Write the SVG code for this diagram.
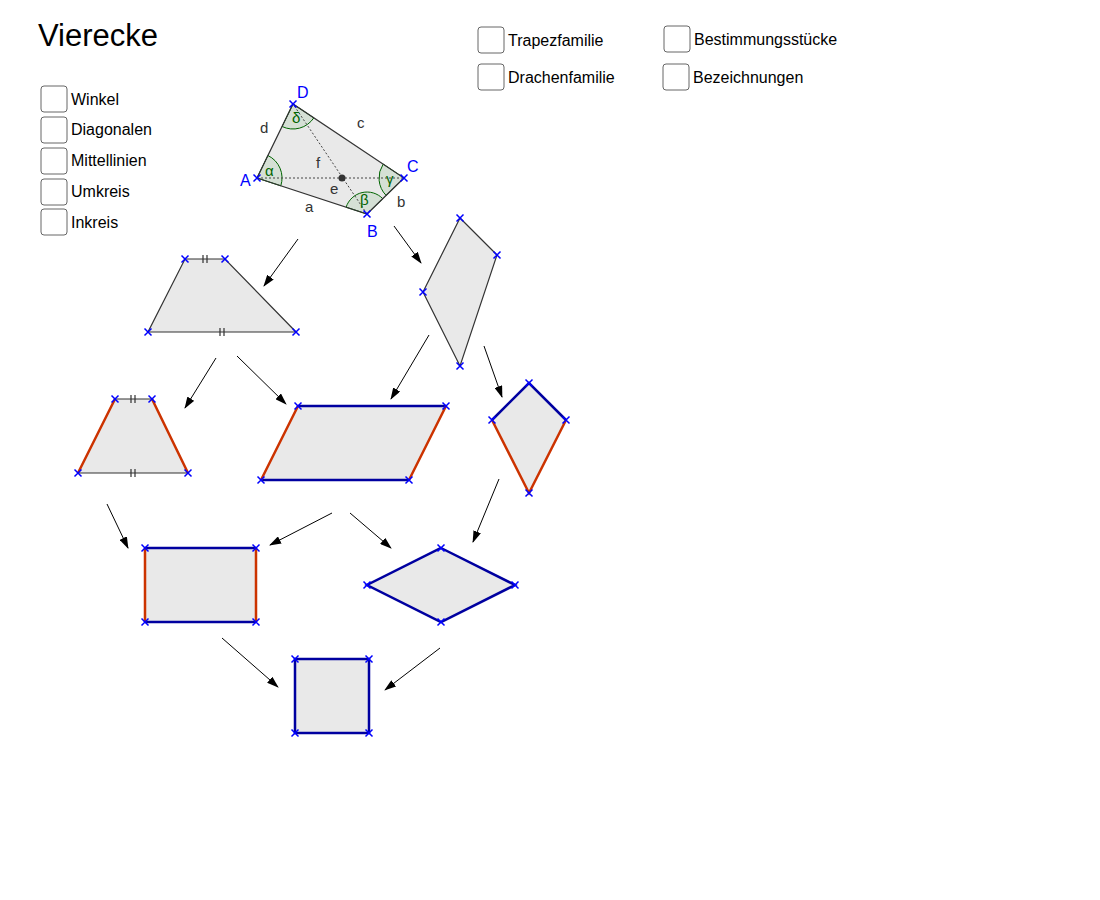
<svg xmlns="http://www.w3.org/2000/svg" xmlns:xlink="http://www.w3.org/1999/xlink" width="1100" height="900" viewBox="0 0 1100 900">
<style>
text{font-family:"Liberation Sans",Arial,sans-serif;}
.lbl{font-size:16px;fill:#000}
.cb{fill:#fff;stroke:#666;stroke-width:1}
.sh{fill:#e9e9e9;stroke:none}
.thin{stroke:#333;stroke-width:1.2;fill:none}
.blue{stroke:#0000a0;stroke-width:2.5;fill:none}
.red{stroke:#cc3300;stroke-width:2.5;fill:none}
.arr{stroke:#000;stroke-width:1;fill:none;marker-end:url(#ah)}
.ang{fill:#d0ddd0;stroke:#006400;stroke-width:1;fill-opacity:0.8}
.pt{font-size:16px;fill:#0000ff}
.gk{font-size:15px;fill:#006400}
.sl{font-size:15px;fill:#333}
.tk{stroke:#333;stroke-width:1.2}
</style>
<defs>
<marker id="ah" markerWidth="12" markerHeight="8" refX="11" refY="4" orient="auto" markerUnits="userSpaceOnUse"><path d="M0,0 L12,4 L0,8 Z" fill="#000"/></marker>
<path id="x" d="M-3.5,-3.5 L3.5,3.5 M-3.5,3.5 L3.5,-3.5" stroke="#0000ff" stroke-width="1.5"/>
</defs>
<rect width="1100" height="900" fill="#fff"/>
<text x="38" y="46" font-size="31" fill="#000">Vierecke</text>
<g id="controls">
<rect class="cb" x="41" y="86" width="26" height="26" rx="3"/><text class="lbl" x="71" y="105">Winkel</text>
<rect class="cb" x="41" y="117" width="26" height="26" rx="3"/><text class="lbl" x="71" y="135">Diagonalen</text>
<rect class="cb" x="41" y="148" width="26" height="26" rx="3"/><text class="lbl" x="71" y="166">Mittellinien</text>
<rect class="cb" x="41" y="179" width="26" height="26" rx="3"/><text class="lbl" x="71" y="197">Umkreis</text>
<rect class="cb" x="41" y="209" width="26" height="26" rx="3"/><text class="lbl" x="71" y="228">Inkreis</text>
<rect class="cb" x="478" y="27" width="26" height="26" rx="3"/><text class="lbl" x="508" y="46">Trapezfamilie</text>
<rect class="cb" x="478" y="64" width="26" height="26" rx="3"/><text class="lbl" x="508" y="83">Drachenfamilie</text>
<rect class="cb" x="664" y="26" width="26" height="26" rx="3"/><text class="lbl" x="694" y="45">Bestimmungsstücke</text>
<rect class="cb" x="663" y="64" width="26" height="26" rx="3"/><text class="lbl" x="693" y="83">Bezeichnungen</text>
</g>
<g id="quad">
<polygon class="sh" points="257,178 367,214 404,178 293,104"/>
<path class="ang" d="M257,178 L267.9,155.5 A25,25 0 0 1 280.8,185.8 Z"/>
<path class="ang" d="M367,214 L346.1,207.2 A22,22 0 0 1 382.8,198.7 Z"/>
<path class="ang" d="M404,178 L386.1,195.4 A25,25 0 0 1 383.2,164.1 Z"/>
<path class="ang" d="M293,104 L313.8,117.9 A25,25 0 0 1 282.1,126.5 Z"/>
<polygon class="thin" points="257,178 367,214 404,178 293,104"/>
<path d="M257,178 L404,178 M367,214 L293,104" stroke="#444" stroke-width="1" stroke-dasharray="2,2" fill="none"/>
<circle cx="342" cy="178" r="3.5" fill="#333"/>
<use xlink:href="#x" x="257" y="178"/><use xlink:href="#x" x="367" y="214"/><use xlink:href="#x" x="404" y="178"/><use xlink:href="#x" x="293" y="104"/>
<text class="pt" x="240" y="186">A</text><text class="pt" x="367" y="237">B</text><text class="pt" x="407" y="172">C</text><text class="pt" x="297" y="98">D</text>
<text class="gk" x="265" y="176">α</text><text class="gk" x="360" y="205">β</text><text class="gk" x="386" y="184">γ</text><text class="gk" x="292" y="123">δ</text>
<text class="sl" x="305" y="212">a</text><text class="sl" x="397" y="207">b</text><text class="sl" x="357" y="128">c</text><text class="sl" x="260" y="133">d</text>
<text class="sl" x="330" y="194">e</text><text class="sl" x="316" y="168">f</text>
</g>
<g id="trapez">
<polygon class="sh" points="148,332 296,332 225,259 185,259"/>
<polygon class="thin" points="148,332 296,332 225,259 185,259"/>
<path class="tk" d="M203,255 V263 M207,255 V263 M220,328 V336 M224,328 V336"/>
<use xlink:href="#x" x="148" y="332"/><use xlink:href="#x" x="296" y="332"/><use xlink:href="#x" x="225" y="259"/><use xlink:href="#x" x="185" y="259"/>
</g>
<g id="drachen">
<polygon class="sh" points="460,218 497,255 460,366 423,292"/>
<polygon class="thin" points="460,218 497,255 460,366 423,292"/>
<use xlink:href="#x" x="460" y="218"/><use xlink:href="#x" x="497" y="255"/><use xlink:href="#x" x="460" y="366"/><use xlink:href="#x" x="423" y="292"/>
</g>
<g id="gleichschenklig">
<polygon class="sh" points="78,473 188,473 152,399 115,399"/>
<path class="thin" d="M78,473 H188 M115,399 H152"/>
<path class="red" d="M78,473 L115,399 M188,473 L152,399"/>
<path class="tk" d="M131,395 V403 M135,395 V403 M131,469 V477 M135,469 V477"/>
<use xlink:href="#x" x="78" y="473"/><use xlink:href="#x" x="188" y="473"/><use xlink:href="#x" x="152" y="399"/><use xlink:href="#x" x="115" y="399"/>
</g>
<g id="parallelogramm">
<polygon class="sh" points="261,480 409,480 446,406 298,406"/>
<path class="blue" d="M261,480 H409 M298,406 H446"/>
<path class="red" d="M261,480 L298,406 M409,480 L446,406"/>
<use xlink:href="#x" x="261" y="480"/><use xlink:href="#x" x="409" y="480"/><use xlink:href="#x" x="446" y="406"/><use xlink:href="#x" x="298" y="406"/>
</g>
<g id="drachen2">
<polygon class="sh" points="529,383 566,420 529,493 492,420"/>
<path class="blue" d="M492,420 L529,383 L566,420"/>
<path class="red" d="M492,420 L529,493 L566,420"/>
<use xlink:href="#x" x="529" y="383"/><use xlink:href="#x" x="566" y="420"/><use xlink:href="#x" x="529" y="493"/><use xlink:href="#x" x="492" y="420"/>
</g>
<g id="rechteck">
<rect class="sh" x="145" y="548" width="111" height="74"/>
<path class="blue" d="M145,548 H256 M145,622 H256"/>
<path class="red" d="M145,548 V622 M256,548 V622"/>
<use xlink:href="#x" x="145" y="548"/><use xlink:href="#x" x="256" y="548"/><use xlink:href="#x" x="145" y="622"/><use xlink:href="#x" x="256" y="622"/>
</g>
<g id="raute">
<polygon class="sh" points="441,548 515,585 441,622 367,585"/>
<polygon class="blue" points="441,548 515,585 441,622 367,585"/>
<use xlink:href="#x" x="441" y="548"/><use xlink:href="#x" x="515" y="585"/><use xlink:href="#x" x="441" y="622"/><use xlink:href="#x" x="367" y="585"/>
</g>
<g id="quadrat">
<rect class="sh" x="295" y="659" width="74" height="74"/>
<rect class="blue" x="295" y="659" width="74" height="74"/>
<use xlink:href="#x" x="295" y="659"/><use xlink:href="#x" x="369" y="659"/><use xlink:href="#x" x="295" y="733"/><use xlink:href="#x" x="369" y="733"/>
</g>
<g id="connectors">
<path class="arr" d="M298,239 L264,286"/>
<path class="arr" d="M394,226 L421,263"/>
<path class="arr" d="M216,358 L185,408"/>
<path class="arr" d="M237,356 L286,404"/>
<path class="arr" d="M429,335 L391,399"/>
<path class="arr" d="M484,346 L502,397"/>
<path class="arr" d="M107,504 L128,548"/>
<path class="arr" d="M332,513 L270,545"/>
<path class="arr" d="M350,513 L391,548"/>
<path class="arr" d="M499,479 L473,542"/>
<path class="arr" d="M222,638 L278,687"/>
<path class="arr" d="M440,648 L385,690"/>
</g>
</svg>
